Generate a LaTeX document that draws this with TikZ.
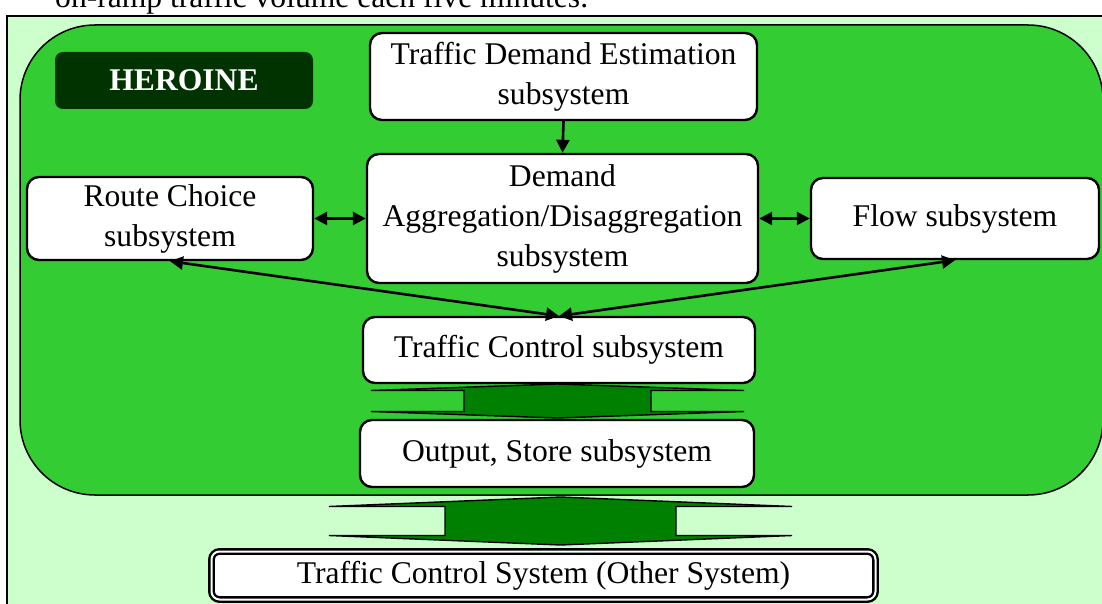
\documentclass[tikz,border=0pt]{standalone}
\usepackage{fontspec}
\setmainfont{Liberation Serif}
\usepackage{tikz}
\usetikzlibrary{calc,arrows.meta}
\definecolor{paleGreen}{HTML}{CCFFCC}
\definecolor{heroGreen}{HTML}{33CC33}
\definecolor{darkGreen}{HTML}{003300}
\definecolor{shaftGreen}{HTML}{008000}
\tikzset{
  subbox/.style={draw,fill=white,line width=2.4pt,rounded corners=12pt,align=center,inner sep=0pt},
  link/.style={line width=2.6pt,-{Triangle[length=13pt,width=13pt]}},
  twolink/.style={line width=2.6pt,{Triangle[length=13pt,width=13pt]}-{Triangle[length=13pt,width=13pt]}},
  blockarrow/.style={draw,fill=shaftGreen,line width=1.4pt,line join=miter}
}
\begin{document}
\begin{tikzpicture}[x=1pt,y=-1pt,every node/.style={font=\fontsize{31.6}{40}\selectfont}]
\useasboundingbox (0,0) rectangle (1102,604);
% page text above the figure
\node[anchor=base west,inner sep=0pt] (ptext) at (55,8) {on-ramp traffic volume each five minutes.};
% background
\draw[fill=paleGreen,line width=1.2pt] (7,16) rectangle (1120,620);
\draw[fill=heroGreen,line width=1.5pt,rounded corners=75pt] (20,25) rectangle (1103,495);
\node[fill=darkGreen,text=white,rounded corners=8pt,minimum width=258pt,minimum height=57pt,inner sep=0pt,font=\fontsize{31.6}{40}\selectfont\bfseries] (hero) at (184,80.5) {HEROINE};

% subsystems
\node[subbox,minimum width=387pt,minimum height=87pt] (tde) at (563.5,76.5) {Traffic Demand Estimation\\subsystem};
\node[subbox,minimum width=391pt,minimum height=129pt] (dagg) at (562.5,218.5) {Demand\\Aggregation/Disaggregation\\subsystem};
\node[subbox,minimum width=286pt,minimum height=83pt] (route) at (170,218.5) {Route Choice\\subsystem};
\node[subbox,minimum width=288pt,minimum height=81pt] (flow) at (955,218.5) {Flow subsystem};
\node[subbox,minimum width=392pt,minimum height=66pt] (tctrl) at (559,350) {Traffic Control subsystem};
\node[subbox,minimum width=394pt,minimum height=67pt] (output) at (557,453.5) {Output, Store subsystem};
\node[subbox,rounded corners=8pt,line width=2.4pt,double,double distance=2pt,minimum width=664pt,minimum height=48pt] (tcs) at (543.5,575.5) {Traffic Control System (Other System)};

% connectors
\coordinate (meet) at (559,316);
\draw[link] (tde.south) -- (dagg.north);
\draw[twolink] (route.east) -- (dagg.west);
\draw[twolink] (dagg.east) -- (flow.west);
\draw[twolink] (route.south) -- (meet);
\draw[twolink] (flow.south) -- (meet);

% block arrows
\coordinate (ua) at (557.5,401);
\draw[blockarrow] ($(ua)+(0,-17)$) -- ($(ua)+(186.5,-10.5)$) -- ($(ua)+(93.5,-10.5)$) -- ($(ua)+(93.5,10.5)$) -- ($(ua)+(186.5,10.5)$)
  -- ($(ua)+(0,17)$) -- ($(ua)+(-186.5,10.5)$) -- ($(ua)+(-93.5,10.5)$) -- ($(ua)+(-93.5,-10.5)$) -- ($(ua)+(-186.5,-10.5)$) -- cycle;
\coordinate (ub) at (560.5,521);
\draw[blockarrow] ($(ub)+(0,-24)$) -- ($(ub)+(231.5,-14.5)$) -- ($(ub)+(115.5,-14.5)$) -- ($(ub)+(115.5,14.5)$) -- ($(ub)+(231.5,14.5)$)
  -- ($(ub)+(0,24)$) -- ($(ub)+(-231.5,14.5)$) -- ($(ub)+(-115.5,14.5)$) -- ($(ub)+(-115.5,-14.5)$) -- ($(ub)+(-231.5,-14.5)$) -- cycle;
\end{tikzpicture}
\end{document}
